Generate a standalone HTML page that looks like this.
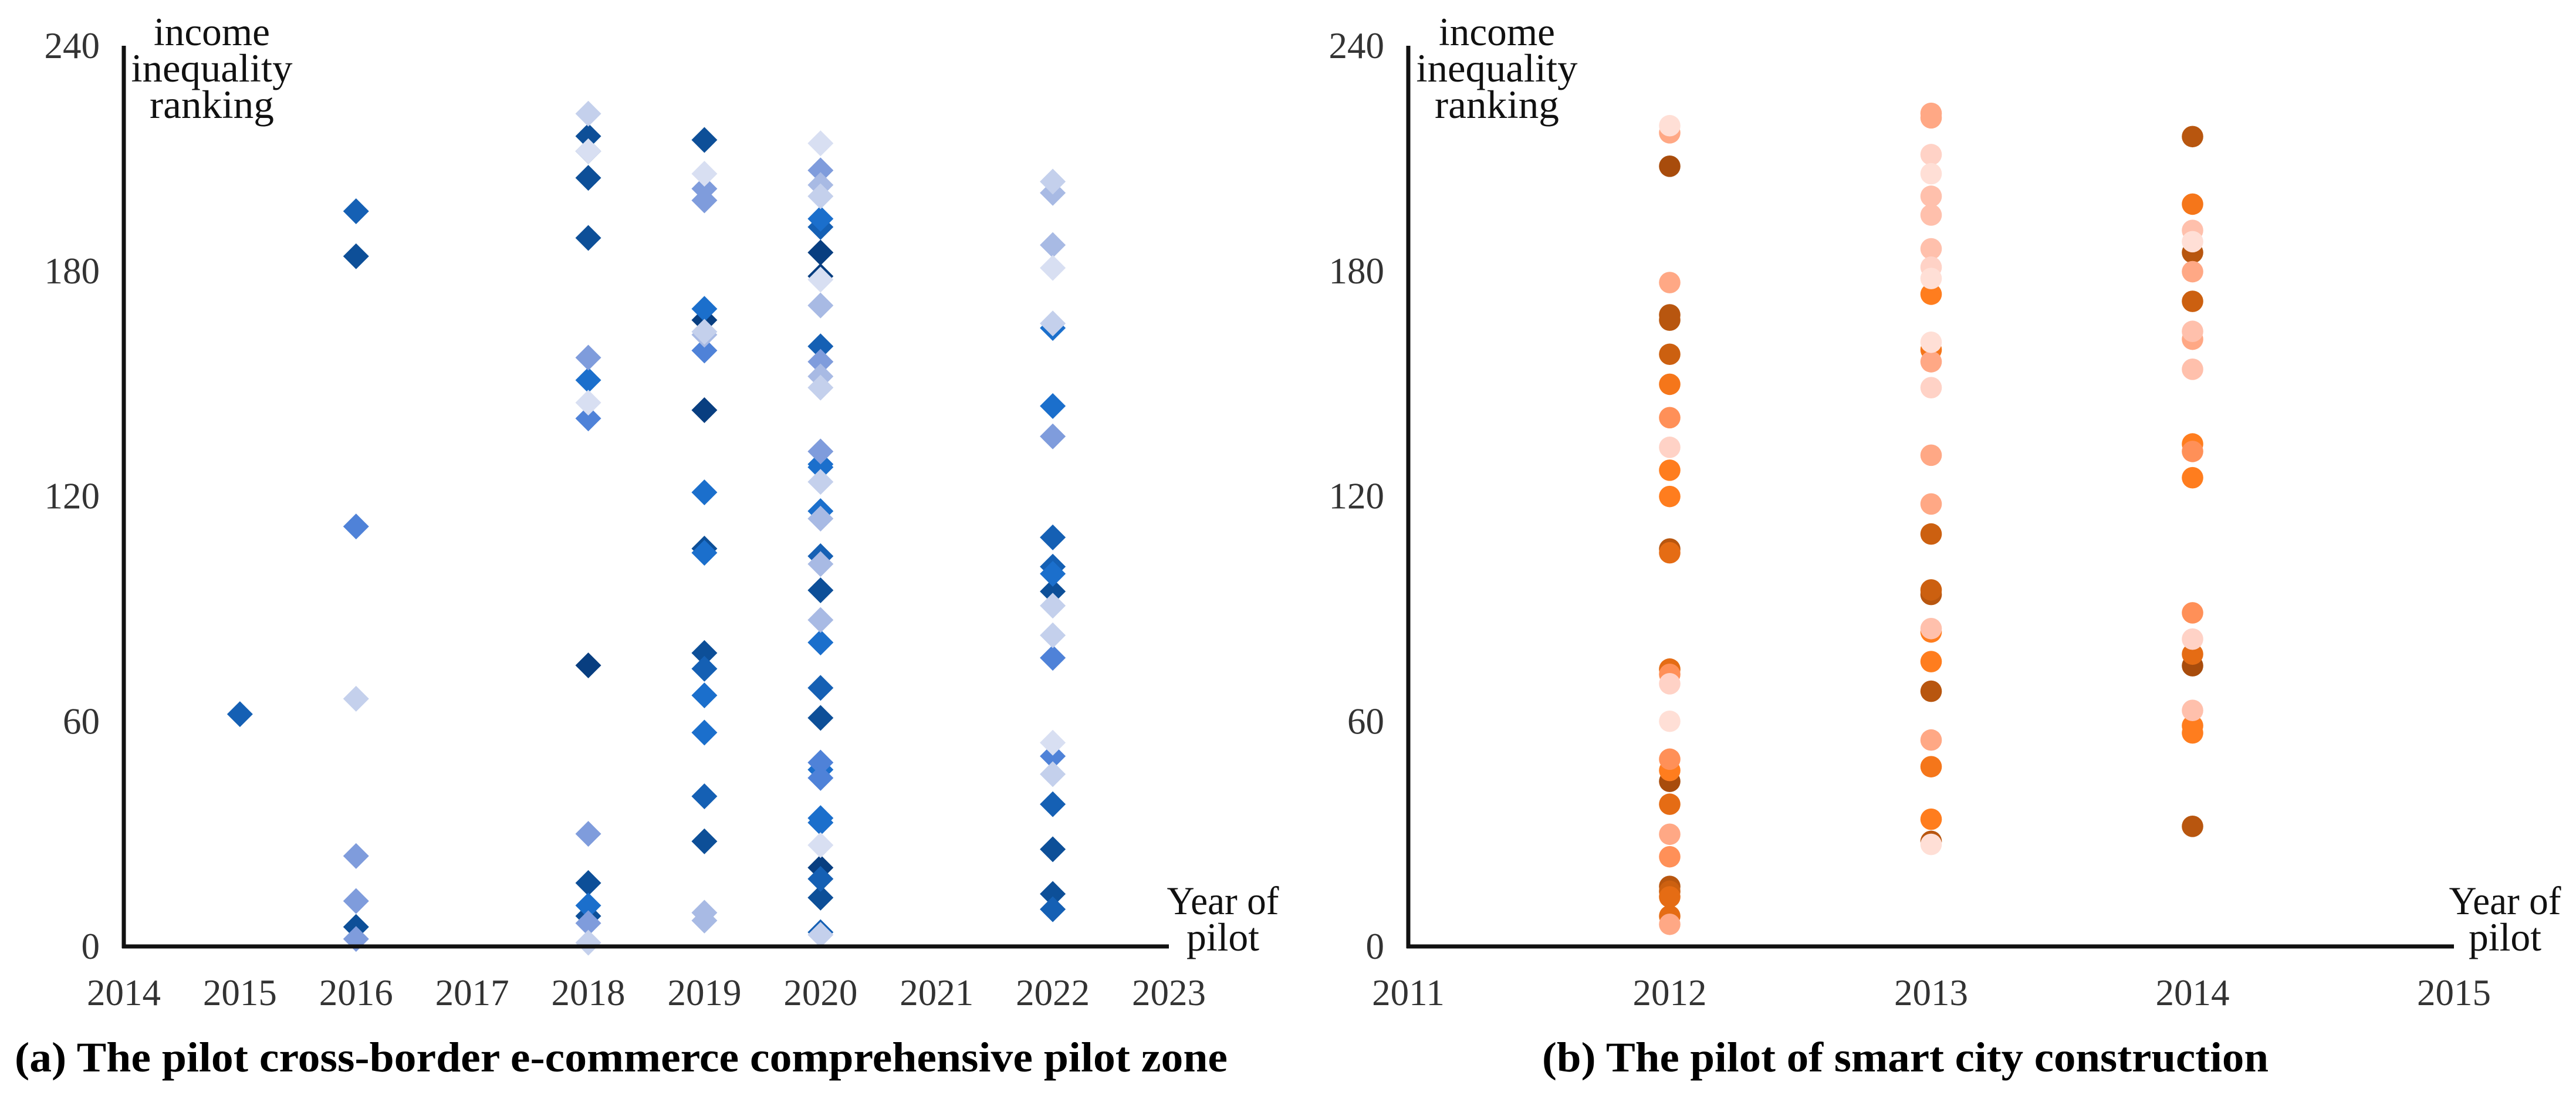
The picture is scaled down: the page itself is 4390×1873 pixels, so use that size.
<!DOCTYPE html>
<html lang="en">
<head>
<meta charset="utf-8">
<title>Income inequality ranking by year of pilot</title>
<style>
html,body{margin:0;padding:0;background:#fff;width:4390px;height:1873px;overflow:hidden}
svg{display:block}
text{font-family:"Liberation Serif",serif}
.tick{font-size:63px;fill:#333}
.title{font-size:68px;fill:#111}
.cap{font-size:72px;font-weight:bold;fill:#000}
</style>
</head>
<body>
<svg id="figure" xmlns="http://www.w3.org/2000/svg" width="4390" height="1873" viewBox="0 0 4390 1873">
  <rect width="4390" height="1873" fill="#fff"/>

  <g id="panel-a">
    <g id="a-marks"></g>
    <line id="a-y-axis" stroke="#111" stroke-width="7"/>
    <line id="a-x-axis" stroke="#111" stroke-width="7"/>
    <g id="a-ticks"></g>
    <g>
      <text class="title" x="361" y="77" text-anchor="middle" textLength="198" lengthAdjust="spacingAndGlyphs">income</text>
      <text class="title" x="361" y="139" text-anchor="middle" textLength="275" lengthAdjust="spacingAndGlyphs">inequality</text>
      <text class="title" x="361" y="201" text-anchor="middle" textLength="212" lengthAdjust="spacingAndGlyphs">ranking</text>
    </g>
    <g>
      <text class="title" x="2084" y="1558" text-anchor="middle" textLength="191" lengthAdjust="spacingAndGlyphs">Year of</text>
      <text class="title" x="2084" y="1620" text-anchor="middle" textLength="124" lengthAdjust="spacingAndGlyphs">pilot</text>
    </g>
    <text class="cap" x="25" y="1826" textLength="2067" lengthAdjust="spacingAndGlyphs">(a) The pilot cross-border e-commerce comprehensive pilot zone</text>
  </g>

  <g id="panel-b">
    <g id="b-marks"></g>
    <line id="b-y-axis" stroke="#111" stroke-width="7"/>
    <line id="b-x-axis" stroke="#111" stroke-width="7"/>
    <g id="b-ticks"></g>
    <g>
      <text class="title" x="2551" y="77" text-anchor="middle" textLength="198" lengthAdjust="spacingAndGlyphs">income</text>
      <text class="title" x="2551" y="139" text-anchor="middle" textLength="275" lengthAdjust="spacingAndGlyphs">inequality</text>
      <text class="title" x="2551" y="201" text-anchor="middle" textLength="212" lengthAdjust="spacingAndGlyphs">ranking</text>
    </g>
    <g>
      <text class="title" x="4269" y="1558" text-anchor="middle" textLength="191" lengthAdjust="spacingAndGlyphs">Year of</text>
      <text class="title" x="4269" y="1620" text-anchor="middle" textLength="124" lengthAdjust="spacingAndGlyphs">pilot</text>
    </g>
    <text class="cap" x="2628" y="1826" textLength="1238" lengthAdjust="spacingAndGlyphs">(b) The pilot of smart city construction</text>
  </g>
</svg>

<script>
// ---- Shared tick labels ----
const rankTicks = [0, 60, 120, 180, 240];
const yearTicksA = [2014, 2015, 2016, 2017, 2018, 2019, 2020, 2021, 2022, 2023];
const yearTicksB = [2011, 2012, 2013, 2014, 2015];

// ---- Panel (a): [year, ranking] per colour group ----
const aNavy = [[2018,74.9],[2019,166.9],[2019,142.9],[2020,184.9],[2020,178.6],[2020,21]];
const aDark = [[2016,183.9],[2016,5.2],[2018,215.9],[2018,211.9],[2018,204.8],[2018,188.8],[2018,16.9],[2018,8.1],[2019,214.9],[2019,106],[2019,78.2],[2019,28],[2020,94.9],[2020,60.9],[2020,13],[2022,94.6],[2022,25.9],[2022,14]];
const aDeep = [[2015,61.9],[2016,195.9],[2019,74],[2019,40],[2020,191.7],[2020,159.9],[2020,104],[2020,68.9],[2020,18],[2020,3.8],[2022,109],[2022,101.2],[2022,37.9],[2022,9.9]];
const aBlue = [[2018,150.9],[2018,10.9],[2019,169.9],[2019,121],[2019,104.9],[2019,66.9],[2019,57],[2020,193.9],[2020,128.5],[2020,127.7],[2020,116],[2020,81],[2020,47.1],[2020,34.2],[2020,33],[2022,164.8],[2022,144],[2022,99.3]];
const aMid = [[2016,111.9],[2018,140.7],[2019,158.8],[2020,49],[2020,44.9],[2022,76.9],[2022,50.7]];
const aSoft = [[2016,24.1],[2016,12.1],[2016,2],[2018,156.9],[2018,30],[2018,6.2],[2019,201.9],[2019,198.8],[2020,206.8],[2020,155.8],[2020,131.9],[2022,135.9]];
const aPale = [[2019,163],[2019,9],[2019,6.9],[2020,202.9],[2020,170.8],[2020,151.9],[2020,114],[2020,101.9],[2020,87],[2022,200.8],[2022,186.9]];
const aLight = [[2016,66],[2018,221.9],[2018,1],[2019,163.8],[2020,199.9],[2020,148.9],[2020,123.8],[2020,3.1],[2022,203.8],[2022,166],[2022,90.8],[2022,82.9],[2022,45.9]];
const aFaint = [[2018,211.9],[2018,144.9],[2019,205.9],[2020,214],[2020,177.7],[2020,27],[2022,180.8],[2022,54.3]];

// ---- Panel (b): [year, ranking] per colour group ----
const bUmber = [[2012,207.9],[2012,44],[2014,74.8]];
const bBrown = [[2012,168.3],[2012,166.9],[2012,105.9],[2012,16],[2013,93.8],[2013,68],[2013,28],[2014,215.8],[2014,184.9],[2014,32]];
const bRust = [[2012,157.8],[2012,14.7],[2013,109.9],[2013,95],[2014,171.9]];
const bBurnt = [[2012,104.9],[2012,73.9],[2012,37.9],[2012,13.2],[2012,8.1],[2014,77.9]];
const bAmber = [[2012,149.8],[2013,159],[2013,47.9],[2014,197.8]];
const bOrange = [[2012,126.9],[2012,119.9],[2012,46.9],[2013,173.8],[2013,83.8],[2013,75.9],[2013,33.9],[2014,133.9],[2014,124.9],[2014,58.8],[2014,56.9]];
const bCoral = [[2012,140.9],[2012,49.9],[2012,23.9],[2012,72.5],[2014,88.9],[2014,131.9]];
const bSalmon = [[2012,216.8],[2012,176.9],[2012,29.9],[2012,5.9],[2013,222],[2013,220.8],[2013,155.8],[2013,130.9],[2013,117.9],[2013,55],[2014,179.8],[2014,161.8]];
const bPeach = [[2013,199.9],[2013,194.9],[2013,185.9],[2013,84.7],[2014,190.8],[2014,163.9],[2014,153.8],[2014,62.9]];
const bBlush = [[2012,133],[2012,70],[2013,211],[2013,181],[2013,148.9],[2014,81.9]];
const bMist = [[2012,218.7],[2012,60],[2013,205.9],[2013,178],[2013,161],[2013,27.2],[2014,187.8]];

// ---- Drawing ----
const NS = 'http://www.w3.org/2000/svg';
const axisTop = 78, axisBottom = 1613, rankMax = 240;
function yScale(v) { return axisBottom - (v / rankMax) * (axisBottom - axisTop); }
function xScaleA(year) {
  const x0 = 211, x1 = 1992;
  return x0 + (year - yearTicksA[0]) / (yearTicksA[yearTicksA.length - 1] - yearTicksA[0]) * (x1 - x0);
}
function xScaleB(year) {
  const x0 = 2400, x1 = 4182;
  return x0 + (year - yearTicksB[0]) / (yearTicksB[yearTicksB.length - 1] - yearTicksB[0]) * (x1 - x0);
}

const groupsA = [aNavy, aDark, aDeep, aBlue, aMid, aSoft, aPale, aLight, aFaint];
const coloursA = ['#083e80', '#0d4f98', '#1560b4', '#1b6fcc', '#4f82d8', '#7f9cdc', '#a8bae4', '#c4d0ec', '#d8dff2'];
const groupsB = [bUmber, bBrown, bRust, bBurnt, bAmber, bOrange, bCoral, bSalmon, bPeach, bBlush, bMist];
const coloursB = ['#a84c0c', '#b8560f', '#cc6010', '#e56c14', '#f5761a', '#ff7d1e', '#ff9058', '#ffa885', '#ffc0ac', '#ffd2c6', '#ffdfd6'];

const marksA = document.getElementById('a-marks');
groupsA.forEach(function (pts, g) {
  pts.forEach(function (p) {
    const cx = xScaleA(p[0]), cy = yScale(p[1]), h = 22;
    const el = document.createElementNS(NS, 'polygon');
    el.setAttribute('points', cx + ',' + (cy - h) + ' ' + (cx + h) + ',' + cy + ' ' + cx + ',' + (cy + h) + ' ' + (cx - h) + ',' + cy);
    el.setAttribute('fill', coloursA[g]);
    
    
    marksA.appendChild(el);
  });
});

const marksB = document.getElementById('b-marks');
groupsB.forEach(function (pts, g) {
  pts.forEach(function (p) {
    const el = document.createElementNS(NS, 'circle');
    el.setAttribute('cx', xScaleB(p[0]));
    el.setAttribute('cy', yScale(p[1]));
    el.setAttribute('r', 18.3);
    el.setAttribute('fill', coloursB[g]);
    
    
    marksB.appendChild(el);
  });
});

function setLine(id, x1, y1, x2, y2) {
  const l = document.getElementById(id);
  l.setAttribute('x1', x1);
  l.setAttribute('y1', y1);
  l.setAttribute('x2', x2);
  l.setAttribute('y2', y2);
}
setLine('a-y-axis', xScaleA(2014), axisTop, xScaleA(2014), axisBottom + 3);
setLine('a-x-axis', xScaleA(2014) - 3, axisBottom, xScaleA(2023), axisBottom);
setLine('b-y-axis', xScaleB(2011), axisTop, xScaleB(2011), axisBottom + 3);
setLine('b-x-axis', xScaleB(2011) - 3, axisBottom, xScaleB(2015), axisBottom);

function tickText(parent, str, x, y, anchor) {
  const t = document.createElementNS(NS, 'text');
  t.setAttribute('class', 'tick');
  t.setAttribute('x', x);
  t.setAttribute('y', y);
  t.setAttribute('text-anchor', anchor);
  
  
  t.textContent = str;
  parent.appendChild(t);
}
const ticksA = document.getElementById('a-ticks');
const ticksB = document.getElementById('b-ticks');
rankTicks.forEach(function (v) {
  tickText(ticksA, v, 170, yScale(v) + 21, 'end');
  tickText(ticksB, v, 2359, yScale(v) + 21, 'end');
});
yearTicksA.forEach(function (yr) { tickText(ticksA, yr, xScaleA(yr), 1713, 'middle'); });
yearTicksB.forEach(function (yr) { tickText(ticksB, yr, xScaleB(yr), 1713, 'middle'); });
</script>
</body>
</html>
